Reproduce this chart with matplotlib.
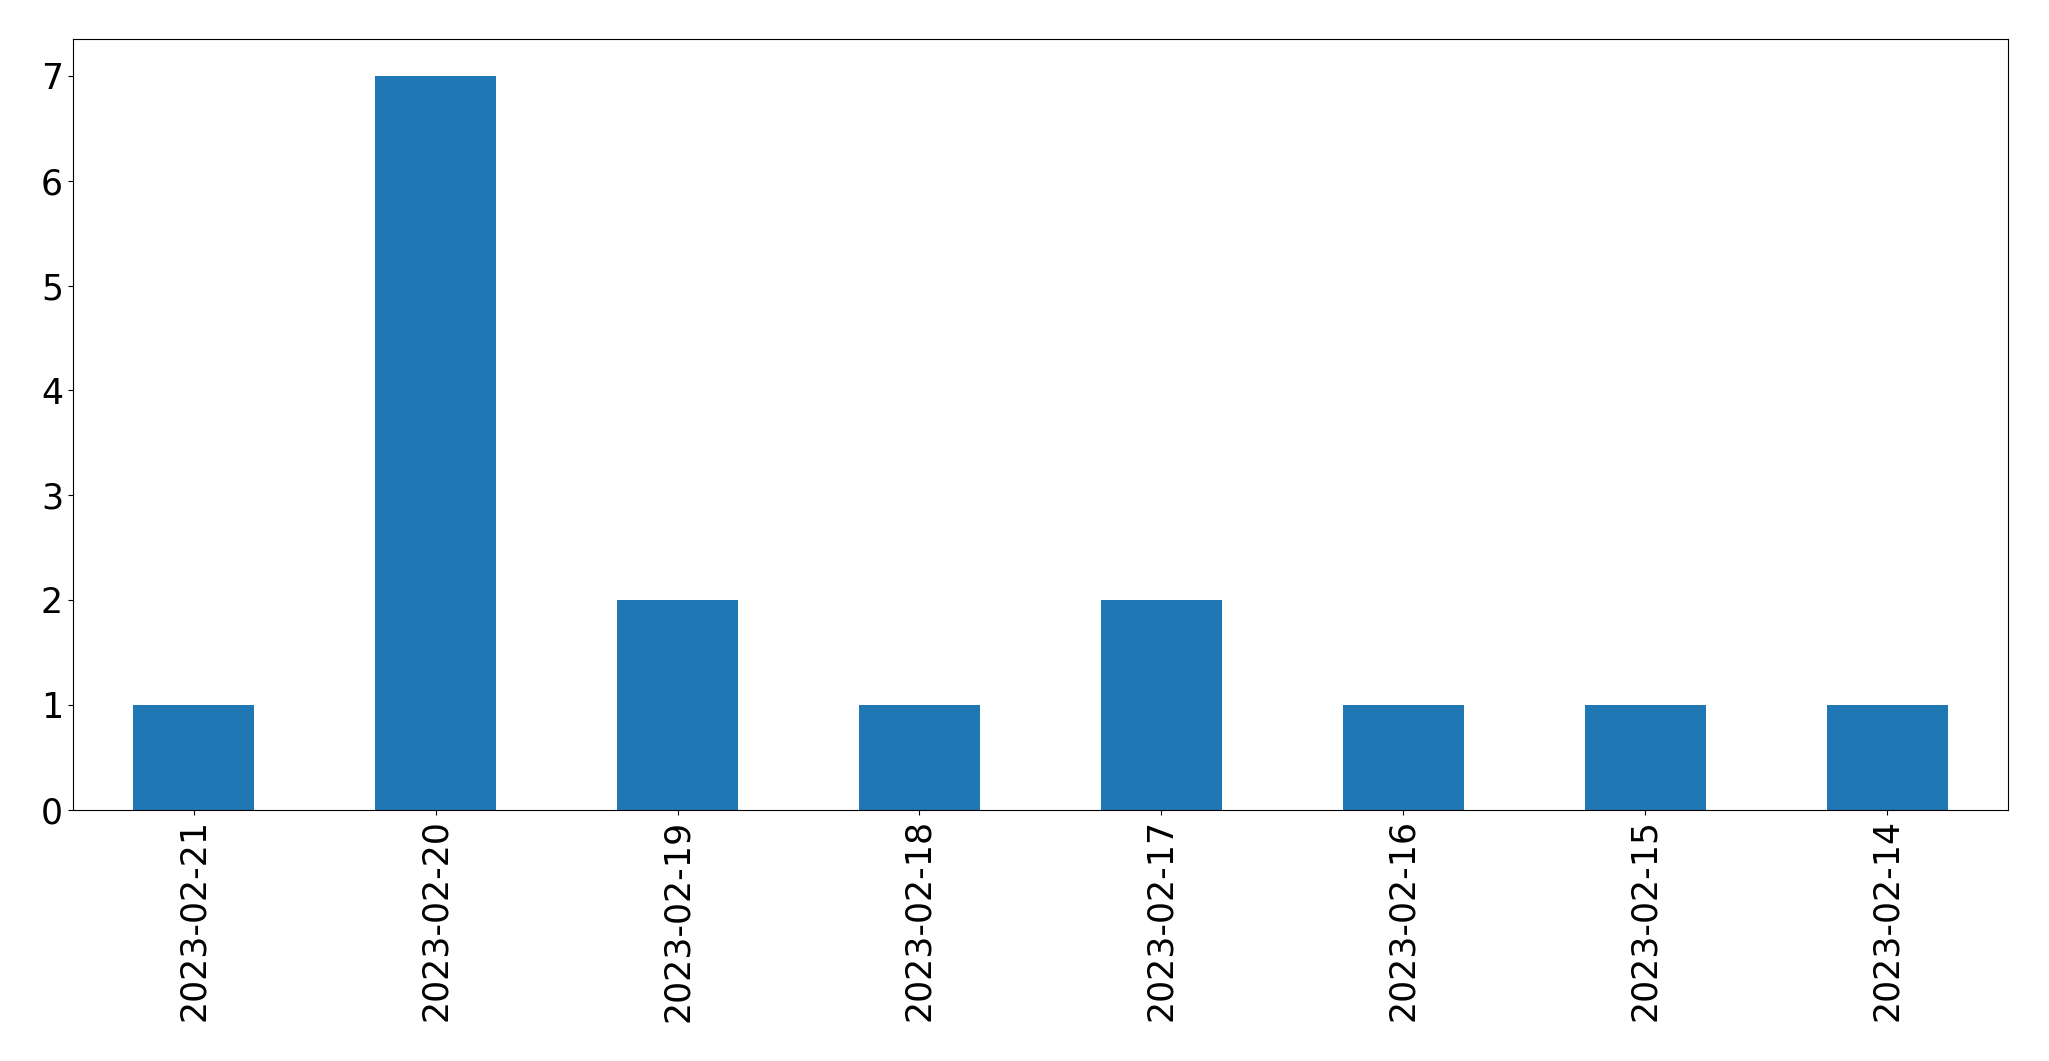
import matplotlib
matplotlib.use("Agg")
import matplotlib.pyplot as plt
import pandas as pd

# dates (newest first) and counts per day
dates = ["2023-02-21", "2023-02-20", "2023-02-19", "2023-02-18",
         "2023-02-17", "2023-02-16", "2023-02-15", "2023-02-14"]
counts = [1, 7, 2, 1, 2, 1, 1, 1]

s = pd.Series(counts, index=dates)

fig = plt.figure(figsize=(20.49, 10.61), dpi=100)
ax = fig.add_axes([0.0355, 0.237, 0.9445, 0.726])
s.plot(kind="bar", ax=ax, color="#1f77b4")
ax.tick_params(axis="both", labelsize=25)

fig.savefig("out.png", dpi=100)
